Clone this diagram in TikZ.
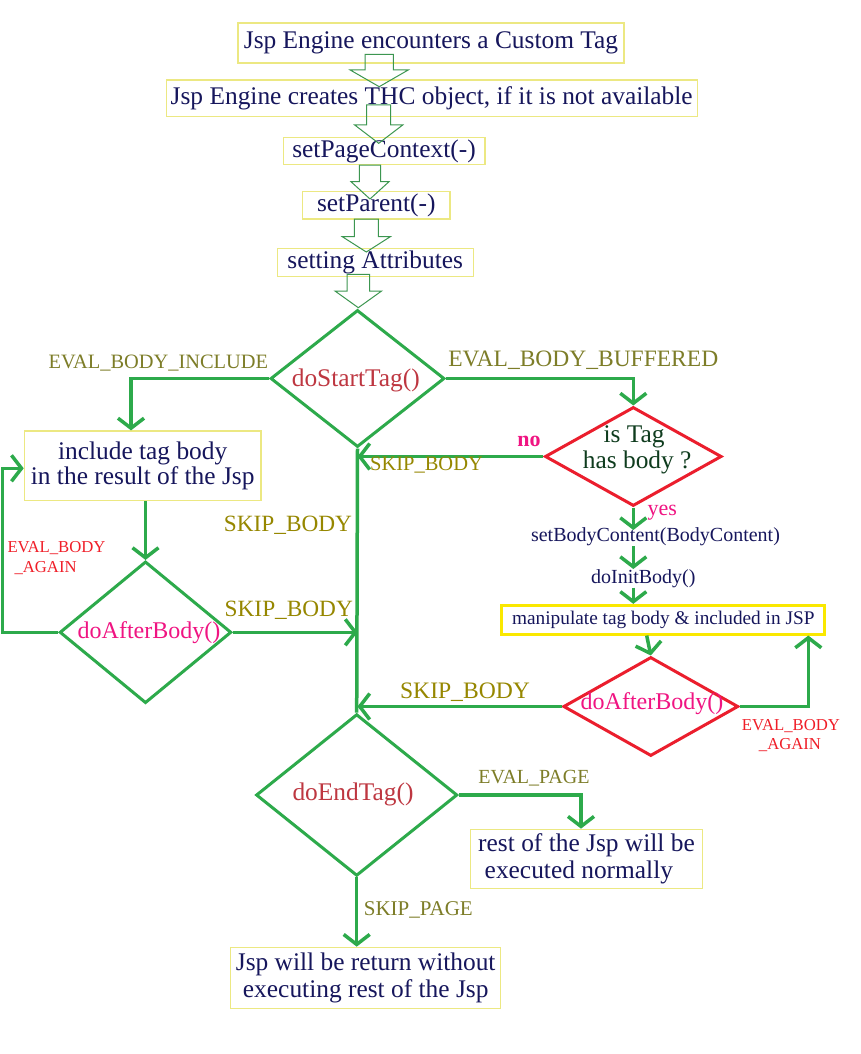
\documentclass[tikz,border=0pt]{standalone}
\usepackage{fontspec}
\setmainfont{Liberation Serif}
\usetikzlibrary{shapes.geometric,arrows.meta,calc}
\definecolor{boxy}{RGB}{236,232,130}
\definecolor{manipy}{RGB}{250,232,0}
\definecolor{navy}{RGB}{22,22,92}
\definecolor{fgreen}{RGB}{45,170,75}
\definecolor{hgreen}{RGB}{60,150,80}
\definecolor{dred}{RGB}{235,30,45}
\definecolor{olv}{RGB}{125,125,40}
\definecolor{sklv}{RGB}{150,135,0}
\definecolor{mgnt}{RGB}{240,20,130}
\definecolor{brick}{RGB}{190,55,65}
\definecolor{dgrn}{RGB}{15,60,30}
\definecolor{lred}{RGB}{240,30,40}
\newcommand\hollowarrow[6]{\draw[hollow] (#1-#2,#4) -- (#1-#2,#5) -- (#1-#3,#5) -- (#1,#6) -- (#1+#3,#5) -- (#1+#2,#5) -- (#1+#2,#4) -- cycle;}
\begin{document}
\begin{tikzpicture}[x=1pt,y=-1pt,
  tbox/.style={draw=boxy,line width=1.3pt,inner sep=0pt,text=navy,font=\fontsize{25.4}{26.5}\selectfont,align=center},
  dia/.style={shape=diamond,line width=3pt,inner sep=0pt},
  gdia/.style={dia,draw=fgreen},
  rdia/.style={dia,draw=dred},
  dtext/.style={inner sep=0pt,font=\fontsize{25.4}{26}\selectfont,align=center},
  flow/.style={draw=fgreen,line width=3.5pt,-{Straight Barb[length=10pt,width=26pt]}},
  plain/.style={draw=fgreen,line width=3.5pt},
  hollow/.style={draw=hgreen,line width=1pt,line join=miter},
  lab/.style={inner sep=0pt,text=olv},
  sklab/.style={inner sep=0pt,text=sklv},
  redlab/.style={inner sep=0pt,text=lred,font=\fontsize{16.7}{19.5}\selectfont,align=left},
  small/.style={inner sep=0pt,text=navy,font=\fontsize{20}{22}\selectfont}
]
\fill[white] (0,0) rectangle (860,1054);
\useasboundingbox (0,0) rectangle (860,1054);

% top boxes
\node[tbox,minimum width=386pt,minimum height=40pt] (b1) at (431,43) {Jsp Engine encounters a Custom Tag};
\node[tbox,minimum width=531pt,minimum height=36.7pt] (b2) at (431.7,98.3) {Jsp Engine creates THC object, if it is not available};
\node[tbox,minimum width=201.7pt,minimum height=26.6pt] (b3) at (384,151) {setPageContext(-)};
\node[tbox,minimum width=147.3pt,minimum height=27.3pt] (b4) at (376.3,205.3) {setParent(-)};
\node[tbox,minimum width=196pt,minimum height=28.4pt] (b5) at (375.2,262.5) {setting Attributes};

% hollow block arrows
\hollowarrow{379.2}{14.2}{29}{54.3}{70}{86.7}
\hollowarrow{378.7}{12}{24}{105}{125}{143.3}
\hollowarrow{370}{10.7}{19}{165}{181.7}{199}
\hollowarrow{366.3}{12}{24}{219}{236.7}{252}
\hollowarrow{358.3}{11.3}{23.3}{274.3}{291}{307.7}

% diamonds
\node[gdia,minimum width=174pt,minimum height=137pt] (ds) at (357.5,378.5) {};
\node[dtext,text=brick] (dst) at (355.8,380) {doStartTag()};
\node[rdia,minimum width=176.7pt,minimum height=99pt] (it) at (633.3,456.5) {};
\node[dtext,text=dgrn] (itt) at (634,450) {is Tag\\\ has body ?};
\node[gdia,minimum width=171.7pt,minimum height=141.7pt] (dab1) at (145.5,632.3) {};
\node[dtext,text=mgnt,font=\fontsize{24}{26}\selectfont] (dab1t) at (149,632.3) {doAfterBody()};
\node[rdia,minimum width=175pt,minimum height=99pt] (dab2) at (650.8,706.5) {};
\node[dtext,text=mgnt,font=\fontsize{24}{26}\selectfont] (dab2t) at (652,704) {doAfterBody()};
\node[gdia,minimum width=201.3pt,minimum height=161.7pt] (de) at (356.7,795) {};
\node[dtext,text=brick] (det) at (353,794.3) {doEndTag()};

% other boxes
\node[tbox,minimum width=236.7pt,minimum height=69.3pt,font=\fontsize{25.4}{24.5}\selectfont] (inc) at (142.7,465.7) {include tag body\\in the result of the Jsp};
\node[draw=manipy,line width=3pt,inner sep=0pt,minimum width=323.3pt,minimum height=28.7pt,text=navy,font=\fontsize{19.3}{22}\selectfont] (manip) at (663.3,619.7) {manipulate tag body \& included in JSP};
\node[tbox,minimum width=231.6pt,minimum height=59pt,align=left] (rest) at (586.5,858.8) {rest of the Jsp will be\\\hspace{6.5pt}executed normally};
\node[tbox,minimum width=270pt,minimum height=61pt] (ret) at (365.7,977.8) {Jsp will be return without\\executing rest of the Jsp};

\node[small] (sbc) at (655.5,537) {setBodyContent(BodyContent)};
\node[small] (dib) at (643.3,578.3) {doInitBody()};

% connectors
\draw[flow] (ds.west) -| ([xshift=-11.7pt]inc.north);
\draw[flow] (ds.east) -| (it.north);
\draw[plain] (ds.south) -- (de.north);
\draw[flow] (it.west) -- (it.west -| ds.south);
\coordinate (yesend) at (633.3,530);
\draw[flow] (it.south) -- (yesend);
\draw[flow] (sbc.south -| it.south) -- (dib.north -| it.south);
\draw[flow] (dib.south -| it.south) -- (manip.north -| it.south);
\draw[flow] ([xshift=-16.6pt]manip.south) -- (dab2.north);
\draw[flow] (dab2.east) -| ([xshift=145pt]manip.south);
\draw[flow] (dab2.west) -- (dab2.west -| ds.south);
\draw[flow] (inc.south -| dab1.north) -- (dab1.north);
\coordinate (lp) at (2.5,468.3);
\draw[flow] (dab1.west) -| (lp) -- ([yshift=-2.6pt]inc.west);
\draw[flow] (dab1.east) -- (dab1.east -| ds.south);
\draw[flow] (de.east) -| ([xshift=-5.5pt]rest.north);
\draw[flow] (de.south) -- (de.south |- ret.north);

% labels
\node[lab,font=\fontsize{20.4}{22}\selectfont] (l1) at (158.3,363) {EVAL\_BODY\_INCLUDE};
\node[lab,font=\fontsize{23.5}{25}\selectfont] (l2) at (583.3,360) {EVAL\_BODY\_BUFFERED};
\node[inner sep=0pt,text=mgnt,font=\bfseries\fontsize{22}{24}\selectfont] (lno) at (529,441) {no};
\node[sklab,font=\fontsize{20.5}{22}\selectfont] (l3) at (426.5,465) {SKIP\_BODY};
\node[sklab,font=\fontsize{23.3}{25}\selectfont] (l4) at (288,525.7) {SKIP\_BODY};
\node[inner sep=0pt,text=mgnt,font=\fontsize{22}{24}\selectfont] (lyes) at (662.3,513) {yes};
\node[redlab,anchor=west] (l5) at (7.3,558) {EVAL\_BODY\\\hspace{7pt}\_AGAIN};
\node[sklab,font=\fontsize{23.3}{25}\selectfont] (l6) at (288.8,610.7) {SKIP\_BODY};
\node[sklab,font=\fontsize{23.6}{25}\selectfont] (l7) at (465,691.7) {SKIP\_BODY};
\node[redlab,anchor=west] (l8) at (741.7,735.5) {EVAL\_BODY\\\hspace{17pt}\_AGAIN};
\node[lab,font=\fontsize{20}{22}\selectfont] (l9) at (534,777.7) {EVAL\_PAGE};
\node[lab,font=\fontsize{21}{23}\selectfont] (l10) at (418.3,910) {SKIP\_PAGE};
\end{tikzpicture}
\end{document}
